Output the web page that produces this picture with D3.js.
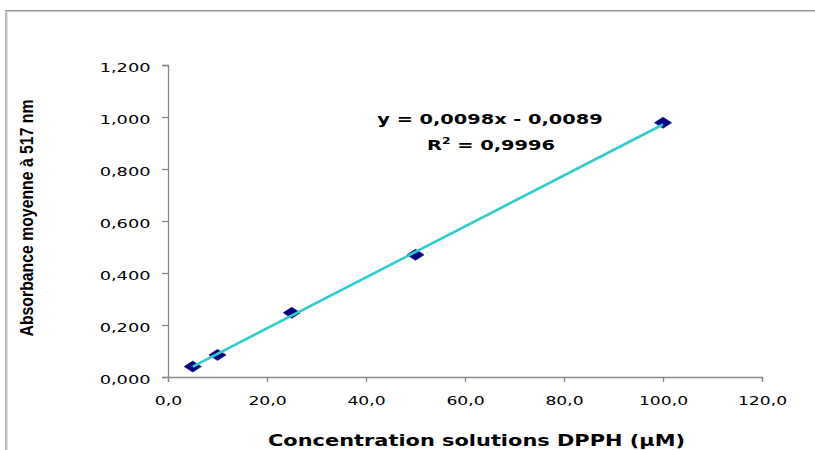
<!DOCTYPE html>
<html>
<head>
<meta charset="utf-8">
<script src="https://cdn.jsdelivr.net/npm/d3@7"></script>
<style>
  body { margin: 0; background: #fff; overflow: hidden; }
  svg { display: block; overflow: hidden; }
  .tick-label { font-family: "DejaVu Sans", Verdana, sans-serif; font-size: 12px; fill: #000; }
</style>
</head>
<body>
<svg id="chart" width="815" height="450"></svg>
<script>
// Data
const concentrations = [5, 10, 25, 50, 100];
const absorbances = [0.040, 0.085, 0.247, 0.470, 0.978];
const xTicks = [0, 20, 40, 60, 80, 100, 120];
const yTicks = [0, 0.2, 0.4, 0.6, 0.8, 1.0, 1.2];
// trendline as printed on the chart
const slope = [0.0098];
const intercept = [-0.0089];
const equationLabel = "y = 0,0098x - 0,0089";
const r2Value = "0,9996";
const xTitle = "Concentration solutions DPPH (µM)";
const yTitle = "Absorbance moyenne à 517 nm";

const svg = d3.select("#chart");
const margin = { left: 168, right: 53, top: 65, bottom: 73 };
const width = 815, height = 450;
const drawWidth = width - margin.left - margin.right;
const drawHeight = height - margin.top - margin.bottom;
const axisColor = "#888888";

// stretch text horizontally, the picture is wider than its fonts
function stretch(sel, factor) {
    sel.each(function () {
        const len = this.getComputedTextLength();
        d3.select(this).attr("textLength", len * factor).attr("lengthAdjust", "spacingAndGlyphs");
    });
}

// outer frame (runs off the right and bottom)
svg.append("path").attr("d", "M6,460V10.5H830")
    .attr("fill", "none").attr("stroke", "#8e8e8e").attr("stroke-width", 1.2);
svg.append("path").attr("d", "M7.2,460V11.7H830")
    .attr("fill", "none").attr("stroke", "#cfcfcf").attr("stroke-width", 1);

const xScale = d3.scaleLinear().domain([0, 120]).range([0, drawWidth]);
const yScale = d3.scaleLinear().domain([0, 1.2]).range([drawHeight, 0]);

const g = svg.append("g").attr("transform", `translate(${margin.left},${margin.top})`);

// Axes
const fmtX = d => d3.format(".1f")(d).replace(".", ",");
const fmtY = d => d3.format(".3f")(d).replace(".", ",");

const xAxis = g.append("g").attr("transform", `translate(0,${drawHeight})`)
    .call(d3.axisBottom(xScale).tickValues(xTicks).tickFormat(fmtX).tickSizeOuter(0).tickSize(5));
const yAxis = g.append("g")
    .call(d3.axisLeft(yScale).tickValues(yTicks).tickFormat(fmtY).tickSizeOuter(0).tickSize(6));

[xAxis, yAxis].forEach(a => {
    a.select(".domain").attr("stroke", axisColor).attr("stroke-width", 1.3);
    a.selectAll(".tick line").attr("stroke", axisColor).attr("stroke-width", 1.3);
    a.selectAll(".tick text").attr("class", "tick-label").attr("font-family", null).attr("font-size", null);
});
xAxis.selectAll(".tick text").attr("dy", null).attr("y", 27.5).call(stretch, 1.43);
yAxis.selectAll(".tick text").attr("dy", null).attr("y", 6).attr("x", -17.5).call(stretch, 1.48);

// Markers
const points = concentrations.map((c, i) => ({ x: c, y: absorbances[i] }));
g.selectAll("path.marker").data(points).enter().append("path")
    .attr("class", "marker")
    .attr("d", "M-8.5,0L0,-5.5L8.5,0L0,5.5Z")
    .attr("transform", d => `translate(${xScale(d.x)},${yScale(d.y)})`)
    .attr("fill", "#000080")
    .attr("stroke", "#1a1a8c")
    .attr("stroke-width", 0.8);

// Trendline over the markers
const xExtent = d3.extent(concentrations);
const trend = xExtent.map(x => ({ x: x, y: slope[0] * x + intercept[0] }));
g.append("path").datum(trend)
    .attr("d", d3.line().x(d => xScale(d.x)).y(d => yScale(d.y)))
    .attr("fill", "none").attr("stroke", "#33CCCC").attr("stroke-width", 2.6);

// Equation label
const eq = svg.append("text").attr("x", 490).attr("y", 123.5).attr("text-anchor", "middle")
    .attr("font-family", "DejaVu Sans, Verdana, sans-serif").attr("font-weight", "bold").attr("font-size", "14px")
    .text(equationLabel);
eq.call(stretch, 1.38);
const r2 = svg.append("text").attr("x", 491).attr("y", 150).attr("text-anchor", "middle")
    .attr("font-family", "DejaVu Sans, Verdana, sans-serif").attr("font-weight", "bold").attr("font-size", "14px");
r2.append("tspan").text("R");
r2.append("tspan").attr("font-size", "9px").attr("dy", -6).text("2");
r2.append("tspan").attr("dy", 6).text(" = " + r2Value);
r2.attr("textLength", 128).attr("lengthAdjust", "spacingAndGlyphs");

// Axis titles
svg.append("text").attr("x", 476.5).attr("y", 446).attr("text-anchor", "middle")
    .attr("font-family", "DejaVu Sans, Verdana, sans-serif").attr("font-weight", "bold").attr("font-size", "15px")
    .text(xTitle).attr("textLength", 417).attr("lengthAdjust", "spacingAndGlyphs");

svg.append("text").attr("transform", "translate(33,218) rotate(-90)").attr("text-anchor", "middle")
    .attr("font-family", "Liberation Sans Narrow, Liberation Sans, Arial, sans-serif").attr("font-weight", "bold").attr("font-size", "19px")
    .text(yTitle).attr("textLength", 237).attr("lengthAdjust", "spacingAndGlyphs");
</script>
</body>
</html>
